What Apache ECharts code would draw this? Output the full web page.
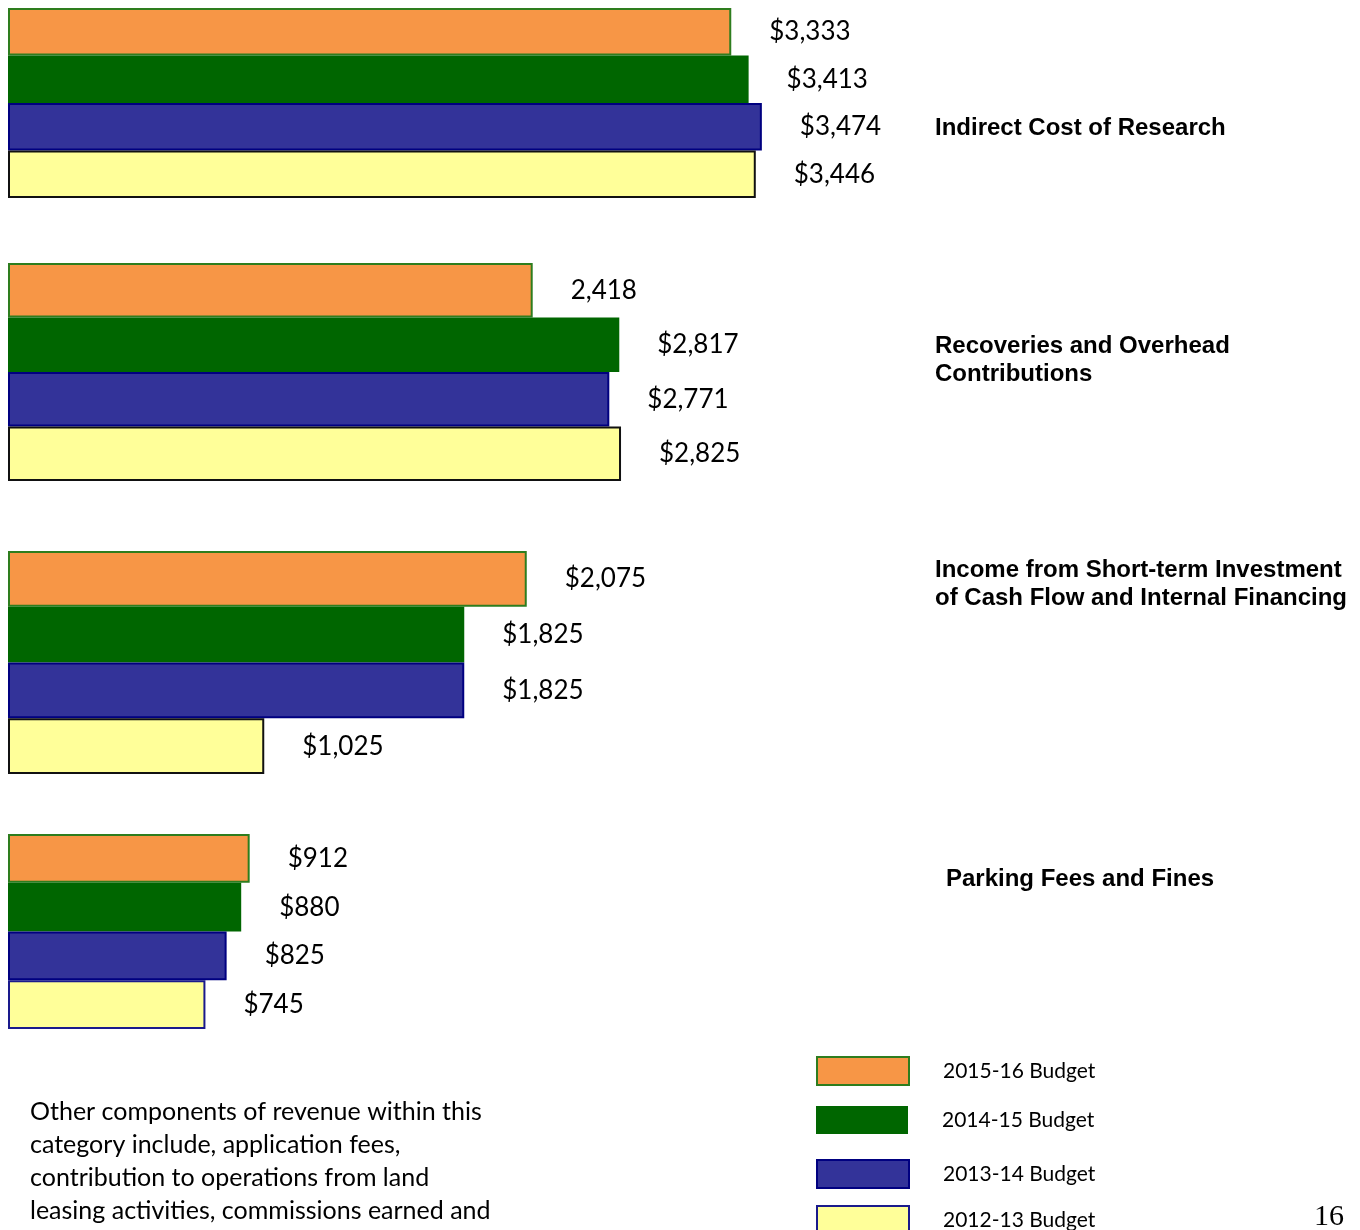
<!DOCTYPE html>
<html>
<head>
<meta charset="utf-8">
<script src="https://cdn.jsdelivr.net/npm/echarts@6/dist/echarts.min.js"></script>
<style>
  html, body { margin: 0; padding: 0; background: #fff; }
  #main { width: 1360px; height: 1230px; }
</style>
</head>
<body>
<div id="main"></div>
<script>
// data
const categories = [
  'Indirect Cost of Research',
  'Recoveries and Overhead\nContributions',
  'Income from Short-term Investment\nof Cash Flow and Internal Financing',
  'Parking Fees and Fines'
];
const seriesNames = ['2015-16 Budget', '2014-15 Budget', '2013-14 Budget', '2012-13 Budget'];
const budget2015_16 = [3333, 2418, 2075, 912];
const budget2014_15 = [3413, 2817, 1825, 880];
const budget2013_14 = [3474, 2771, 1825, 825];
const budget2012_13 = [3446, 2825, 1025, 745];
// the slide prints this one label without the dollar sign
const noDollar = [[1, 0]];

const values = [budget2015_16, budget2014_15, budget2013_14, budget2012_13];
const fills = ['#F79646', '#006600', '#333399', '#FFFF99'];
const borders = ['#2E7D1E', '#006600', '#000080', '#111111'];

// layout of each group (the slide isn't drawn to one scale)
const gridTops = [8, 263, 551, 834];
const gridHeights = [190, 218, 223, 195];
const pxPerUnit = [0.217, 0.217, 0.25, 0.265];
const catLabelPos = [[935, 114], [935, 332], [935, 556], [946, 865]];
const legendTops = [1056, 1106, 1159, 1205];
const gridLeft = 8, gridWidth = 800;

const chartDom = document.getElementById('main');
const myChart = echarts.init(chartDom);

const grids = [], xAxes = [], yAxes = [], series = [], catTexts = [];
categories.forEach((cat, g) => {
  grids.push({ left: gridLeft, top: gridTops[g], width: gridWidth, height: gridHeights[g] });
  xAxes.push({ type: 'value', gridIndex: g, min: 0, max: gridWidth / pxPerUnit[g], show: false });
  yAxes.push({
    type: 'category',
    gridIndex: g,
    data: [cat],
    inverse: true,
    show: false
  });
  // category names sit off to the right, not centred on the bars
  catTexts.push({
    type: 'text',
    left: catLabelPos[g][0],
    top: catLabelPos[g][1],
    style: {
      text: cat,
      font: 'bold 24px "Liberation Sans"',
      lineHeight: 28,
      fill: '#000'
    }
  });
  seriesNames.forEach((name, s) => {
    const plain = noDollar.some(p => p[0] === g && p[1] === s);
    series.push({
      type: 'bar',
      name: name,
      xAxisIndex: g,
      yAxisIndex: g,
      data: [values[s][g]],
      barGap: '0%',
      barCategoryGap: '0%',
      itemStyle: {
        color: fills[s],
        borderColor: (s === 3 && g === 3) ? '#1a1a8c' : borders[s],
        borderWidth: s === 1 ? 0 : 2
      },
      label: {
        show: true,
        position: 'right',
        distance: 38,
        color: '#000',
        fontFamily: 'Lato',
        fontSize: 26,
        formatter: p => (plain ? '' : '$') + p.value.toLocaleString('en-US')
      },
      silent: true
    });
  });
});

// one legend box per entry so the uneven spacing of the slide can be kept
const legends = seriesNames.map((n, s) => ({
  orient: 'vertical',
  left: 816,
  top: legendTops[s],
  padding: 0,
  itemWidth: 92,
  itemHeight: 28,
  icon: 'rect',
  selectedMode: false,
  data: [{
    name: n,
    itemStyle: {
      color: fills[s],
      borderColor: s === 3 ? '#1a1a8c' : borders[s],
      borderWidth: s === 1 ? 0 : 2
    }
  }],
  textStyle: {
    color: '#000',
    fontFamily: 'Lato',
    fontSize: 21,
    padding: [0, 0, 0, 29]
  }
}));

const option = {
  animation: false,
  backgroundColor: '#fff',
  grid: grids,
  xAxis: xAxes,
  yAxis: yAxes,
  legend: legends,
  graphic: catTexts.concat([
    {
      type: 'text',
      left: 30,
      top: 1095,
      style: {
        text: 'Other components of revenue within this\ncategory include, application fees,\ncontribution to operations from land\nleasing activities, commissions earned and',
        font: '25px Lato',
        lineHeight: 33,
        fill: '#000'
      }
    },
    {
      type: 'text',
      left: 1314,
      top: 1202,
      style: {
        text: '16',
        font: '30px "Liberation Serif"',
        fill: '#000'
      }
    }
  ]),
  series: series
};

myChart.setOption(option);
</script>
</body>
</html>
